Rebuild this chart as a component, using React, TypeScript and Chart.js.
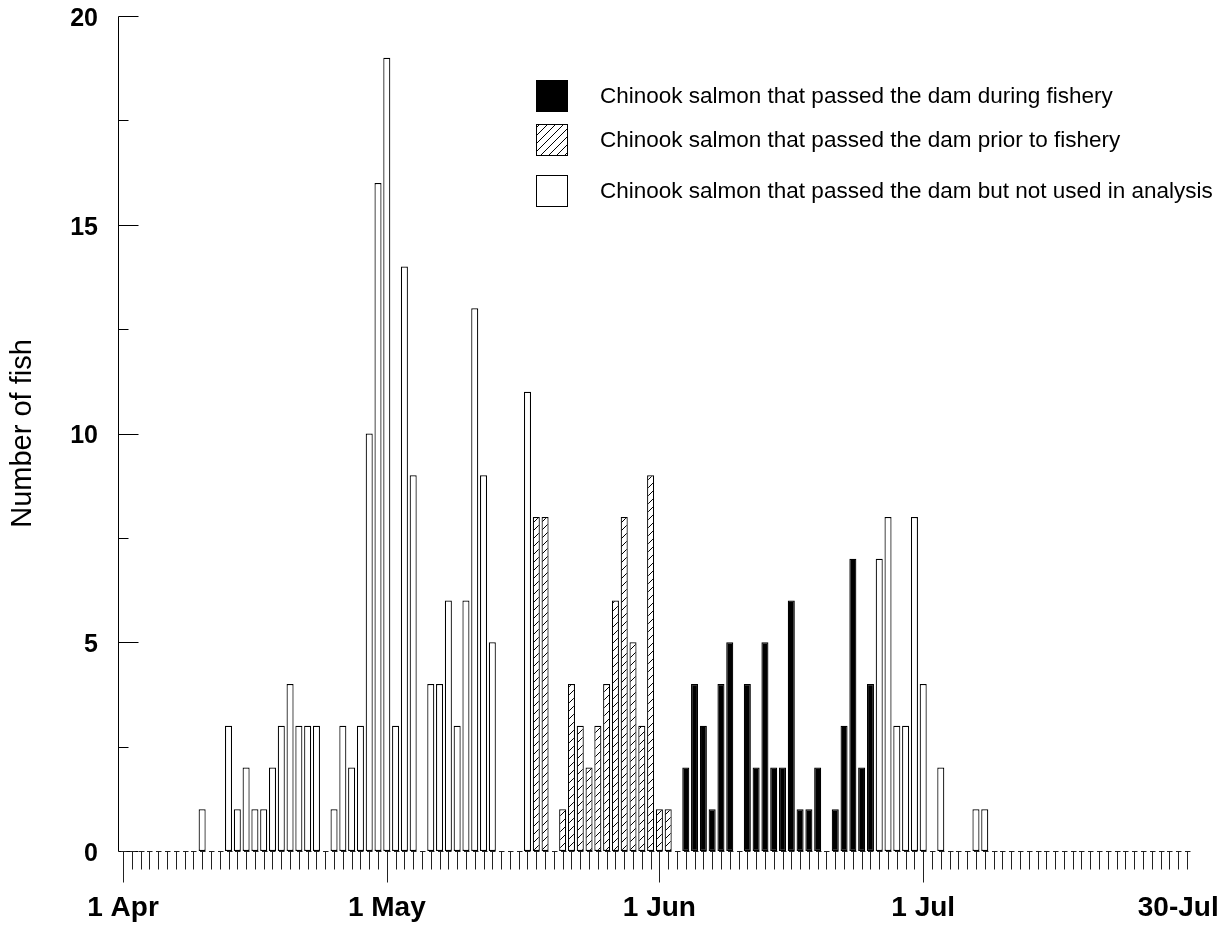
import { useEffect, useRef } from 'react';
import { Chart, registerables } from 'chart.js';

Chart.register(...registerables);

const FONT = '"Liberation Sans", Arial, sans-serif';

// 1 Apr .. 31 Jul, one category per day
const startMonth = 3; // April (0-based)
const dayCount = 122;
const monthNames = ['Jan', 'Feb', 'Mar', 'Apr', 'May', 'Jun', 'Jul', 'Aug', 'Sep', 'Oct', 'Nov', 'Dec'];
const dayCategories = Array.from({ length: dayCount }, (_, i) => {
  const d = new Date(2000, startMonth, 1 + i);
  return `${d.getDate()} ${monthNames[d.getMonth()]}`;
});

// labelled ticks on the date axis
const tickIndices = [0, 30, 61, 91, 120];
const tickLabels = ['1 Apr', '1 May', '1 Jun', '1 Jul', '30-Jul'];
const longTickIndices = [0, 30, 61, 91];

// Number of fish per day (index 0 = 1 Apr)
const notUsedInAnalysis = [
  0, 0, 0, 0, 0, 0, 0, 0, 0, 1,
  0, 0, 3, 1, 2, 1, 1, 2, 3, 4,
  3, 3, 3, 0, 1, 3, 2, 3, 10, 16,
  19, 3, 14, 9, 0, 4, 4, 6, 3, 6,
  13, 9, 5, 0, 0, 0, 11, 0, 0, 0,
  0, 0, 0, 0, 0, 0, 0, 0, 0, 0,
  0, 0, 0, 0, 0, 0, 0, 0, 0, 0,
  0, 0, 0, 0, 0, 0, 0, 0, 0, 0,
  0, 0, 0, 0, 0, 0, 7, 8, 3, 3,
  8, 4, 0, 2, 0, 0, 0, 1, 1, 0,
  0, 0, 0, 0, 0, 0, 0, 0, 0, 0,
  0, 0, 0, 0, 0, 0, 0, 0, 0, 0,
  0, 0,
];

const priorToFishery = [
  0, 0, 0, 0, 0, 0, 0, 0, 0, 0,
  0, 0, 0, 0, 0, 0, 0, 0, 0, 0,
  0, 0, 0, 0, 0, 0, 0, 0, 0, 0,
  0, 0, 0, 0, 0, 0, 0, 0, 0, 0,
  0, 0, 0, 0, 0, 0, 0, 8, 8, 0,
  1, 4, 3, 2, 3, 4, 6, 8, 5, 3,
  9, 1, 1, 0, 0, 0, 0, 0, 0, 0,
  0, 0, 0, 0, 0, 0, 0, 0, 0, 0,
  0, 0, 0, 0, 0, 0, 0, 0, 0, 0,
  0, 0, 0, 0, 0, 0, 0, 0, 0, 0,
  0, 0, 0, 0, 0, 0, 0, 0, 0, 0,
  0, 0, 0, 0, 0, 0, 0, 0, 0, 0,
  0, 0,
];

const duringFishery = [
  0, 0, 0, 0, 0, 0, 0, 0, 0, 0,
  0, 0, 0, 0, 0, 0, 0, 0, 0, 0,
  0, 0, 0, 0, 0, 0, 0, 0, 0, 0,
  0, 0, 0, 0, 0, 0, 0, 0, 0, 0,
  0, 0, 0, 0, 0, 0, 0, 0, 0, 0,
  0, 0, 0, 0, 0, 0, 0, 0, 0, 0,
  0, 0, 0, 0, 2, 4, 3, 1, 4, 5,
  0, 4, 2, 5, 2, 2, 6, 1, 1, 2,
  0, 1, 3, 7, 2, 4, 0, 0, 0, 0,
  0, 0, 0, 0, 0, 0, 0, 0, 0, 0,
  0, 0, 0, 0, 0, 0, 0, 0, 0, 0,
  0, 0, 0, 0, 0, 0, 0, 0, 0, 0,
  0, 0,
];

const legendLabels = [
  'Chinook salmon that passed the dam during fishery',
  'Chinook salmon that passed the dam prior to fishery',
  'Chinook salmon that passed the dam but not used in analysis',
];

const yMin = 0;
const yMax = 20;
const yMajorStep = 5;
const yMinorStep = 2.5;

function makeHatch(ctx: CanvasRenderingContext2D) {
  const c = document.createElement('canvas');
  c.width = 8;
  c.height = 8;
  const g = c.getContext('2d')!;
  g.fillStyle = '#fff';
  g.fillRect(0, 0, 8, 8);
  g.strokeStyle = '#000';
  g.lineWidth = 1;
  g.beginPath();
  g.moveTo(0, 8);
  g.lineTo(8, 0);
  g.moveTo(-1, 1);
  g.lineTo(1, -1);
  g.moveTo(7, 9);
  g.lineTo(9, 7);
  g.stroke();
  return ctx.createPattern(c, 'repeat') as CanvasPattern;
}

export default function App() {
  const ref = useRef<HTMLCanvasElement | null>(null);

  useEffect(() => {
    const canvas = ref.current!;
    const ctx = canvas.getContext('2d')!;
    const hatch = makeHatch(ctx);
    const nz = (a: number[]) => a.map((v) => (v === 0 ? null : v));

    const axesPlugin = {
      id: 'customAxes',
      afterDraw(chart: any) {
        const { ctx: c, chartArea, scales } = chart;
        const x = scales.x;
        const y = scales.y;
        c.save();
        c.strokeStyle = '#000';
        c.lineWidth = 1;
        const axisX = Math.round(chartArea.left - 5) + 0.5;
        const base = Math.round(y.getPixelForValue(0)) + 0.5;
        c.beginPath();
        c.moveTo(axisX, Math.round(y.getPixelForValue(yMax)) + 0.5);
        c.lineTo(axisX, base);
        for (let v = yMin; v <= yMax + 1e-9; v += yMinorStep) {
          const py = Math.round(y.getPixelForValue(v)) + 0.5;
          const len = Math.abs(v % yMajorStep) < 1e-9 ? 20 : 10;
          c.moveTo(axisX, py);
          c.lineTo(axisX + len, py);
        }
        c.stroke();
        c.strokeStyle = '#222';
        c.beginPath();
        for (let i = 0; i < dayCount; i++) {
          const px = Math.round(x.getPixelForValue(i)) + 0.5;
          const len = longTickIndices.includes(i) ? 31 : 18;
          c.moveTo(px, base);
          c.lineTo(px, base + len);
          c.moveTo(px - 2.5, base);
          c.lineTo(px + 3, base);
        }
        c.stroke();

        // legend
        const lx = 536;
        const tops = [80, 124, 175];
        const size = 32;
        const fills = ['#000', hatch, '#fff'];
        c.font = `22.5px ${FONT}`;
        c.textBaseline = 'middle';
        c.textAlign = 'left';
        legendLabels.forEach((t, k) => {
          c.fillStyle = fills[k];
          c.fillRect(lx, tops[k], size, size);
          c.strokeStyle = '#000';
          c.strokeRect(lx + 0.5, tops[k] + 0.5, size - 1, size - 1);
          c.fillStyle = '#000';
          c.fillText(t, 600, tops[k] + size / 2 + 1);
        });
        c.restore();
      },
    };

    const chart = new Chart(canvas, {
      type: 'bar',
      data: {
        labels: dayCategories,
        datasets: [
          {
            label: legendLabels[0],
            data: nz(duringFishery),
            backgroundColor: '#000',
            borderColor: '#000',
            borderWidth: 1.2,
            borderSkipped: false,
          },
          {
            label: legendLabels[1],
            data: nz(priorToFishery),
            backgroundColor: hatch,
            borderColor: '#000',
            borderWidth: 1.2,
            borderSkipped: false,
          },
          {
            label: legendLabels[2],
            data: nz(notUsedInAnalysis),
            backgroundColor: '#fff',
            borderColor: '#000',
            borderWidth: 1.2,
            borderSkipped: false,
          },
        ] as any,
      },
      options: {
        responsive: false,
        animation: false,
        devicePixelRatio: 1,
        layout: { padding: { top: 16, right: 38, left: 0, bottom: 0 } },
        datasets: { bar: { barPercentage: 1, categoryPercentage: 0.8 } },
        plugins: { legend: { display: false }, tooltip: { enabled: false } },
        scales: {
          x: {
            type: 'category',
            offset: false,
            stacked: true,
            grid: { display: false, drawTicks: false },
            border: { display: false },
            ticks: {
              autoSkip: false,
              maxRotation: 0,
              minRotation: 0,
              padding: 40,
              color: '#000',
              font: { family: FONT, size: 28, weight: 'bold' },
              callback: (_v: any, i: number) => {
                const k = tickIndices.indexOf(i);
                return k >= 0 ? tickLabels[k] : '';
              },
            },
            afterFit: (s: any) => {
              s.height = 75;
              s.paddingLeft = 0;
              s.paddingRight = 0;
            },
          },
          y: {
            stacked: true,
            min: yMin,
            max: yMax,
            grid: { display: false, drawTicks: false },
            border: { display: false },
            ticks: {
              stepSize: yMajorStep,
              padding: 25,
              labelOffset: 3,
              color: '#000',
              font: { family: FONT, size: 25, weight: 'bold' },
            },
            title: {
              display: true,
              text: 'Number of fish',
              color: '#000',
              font: { family: FONT, size: 29 },
              padding: { top: 6, bottom: 0 },
            },
            afterFit: (s: any) => {
              s.width = 123;
              s.paddingTop = 0;
              s.paddingBottom = 0;
            },
          },
        },
      } as any,
      plugins: [axesPlugin],
    });
    return () => chart.destroy();
  }, []);

  return (
    <div style={{ position: 'absolute', left: 0, top: 0, width: 1225, height: 926, background: '#fff' }}>
      <canvas ref={ref} width={1225} height={926} style={{ display: 'block' }} />
    </div>
  );
}
